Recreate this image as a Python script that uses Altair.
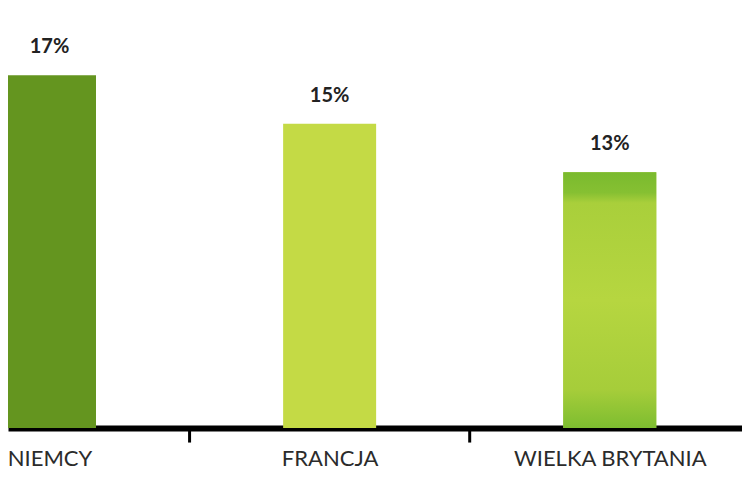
import altair as alt
import pandas as pd

countries = ["NIEMCY", "FRANCJA", "WIELKA BRYTANIA"]
values = [17, 15, 13]
labels = ["17%", "15%", "13%"]
colors = ["#64951f", "#c4da45", "#a3cb38"]
boundaries = [0.5, 1.5, 2.5]

df = pd.DataFrame({"idx": [0, 1, 2], "country": countries, "value": values, "label": labels})
bdf = pd.DataFrame({"b": boundaries})

XDOM = [-0.1303, 2.4542]
YDOM = [2.45, 19.77]

x = alt.X("idx:Q", scale=alt.Scale(domain=XDOM, nice=False, zero=False),
          axis=alt.Axis(values=[0, 1, 2],
                        labelExpr="datum.value == 0 ? 'NIEMCY' : datum.value == 1 ? 'FRANCJA' : 'WIELKA BRYTANIA'",
                        title=None, grid=False, ticks=False, labelPadding=30,
                        labelFont="Lato", labelFontSize=22, labelColor="#2b2b2b",
                        labelBaseline="middle", labelFlush=False, labelOverlap=False,
                        labelLimit=400,
                        domainColor="#000000", domainWidth=6, labelBound=False))
y = alt.Y("value:Q", scale=alt.Scale(domain=YDOM, nice=False, zero=False), axis=None)

bars = alt.Chart(df).mark_bar(size=93, clip=True).encode(
    x=x,
    y=y,
    y2=alt.datum(YDOM[0]),
    color=alt.Color("country:N", scale=alt.Scale(domain=countries, range=colors), legend=None),
)

wb = alt.Chart(df).transform_filter(alt.datum.idx == 2).mark_bar(
    size=93, clip=True,
    color=alt.Gradient(
        gradient="linear", x1=0, x2=0, y1=0, y2=1,
        stops=[
            alt.GradientStop(color="#7aba2e", offset=0),
            alt.GradientStop(color="#86c032", offset=0.08),
            alt.GradientStop(color="#a9cf3b", offset=0.12),
            alt.GradientStop(color="#b6d640", offset=0.5),
            alt.GradientStop(color="#a6cd3a", offset=0.85),
            alt.GradientStop(color="#7dbd30", offset=1),
        ],
    ),
).encode(x=alt.X("idx:Q"), y=alt.Y("value:Q"), y2=alt.datum(YDOM[0]))

text = alt.Chart(df).mark_text(dy=-28, fontSize=20, fontWeight="bold", font="Lato",
                               color="#222222", baseline="middle").encode(
    x=alt.X("idx:Q"), y=alt.Y("value:Q"), text="label:N")

ticks = alt.Chart(bdf).mark_rule(color="#000000", strokeWidth=3).encode(
    x=alt.X("b:Q"), y=alt.datum(YDOM[0]), y2=alt.datum(1.85))

chart = alt.layer(bars, wb, text, ticks).properties(
    width=734, height=420,
    autosize=alt.AutoSizeParams(type="none"),
    padding={"left": 0, "top": 0, "right": 0, "bottom": 55},
).configure_view(stroke=None)

chart.save("out.html", embed_options={"renderer": "svg", "actions": False})
